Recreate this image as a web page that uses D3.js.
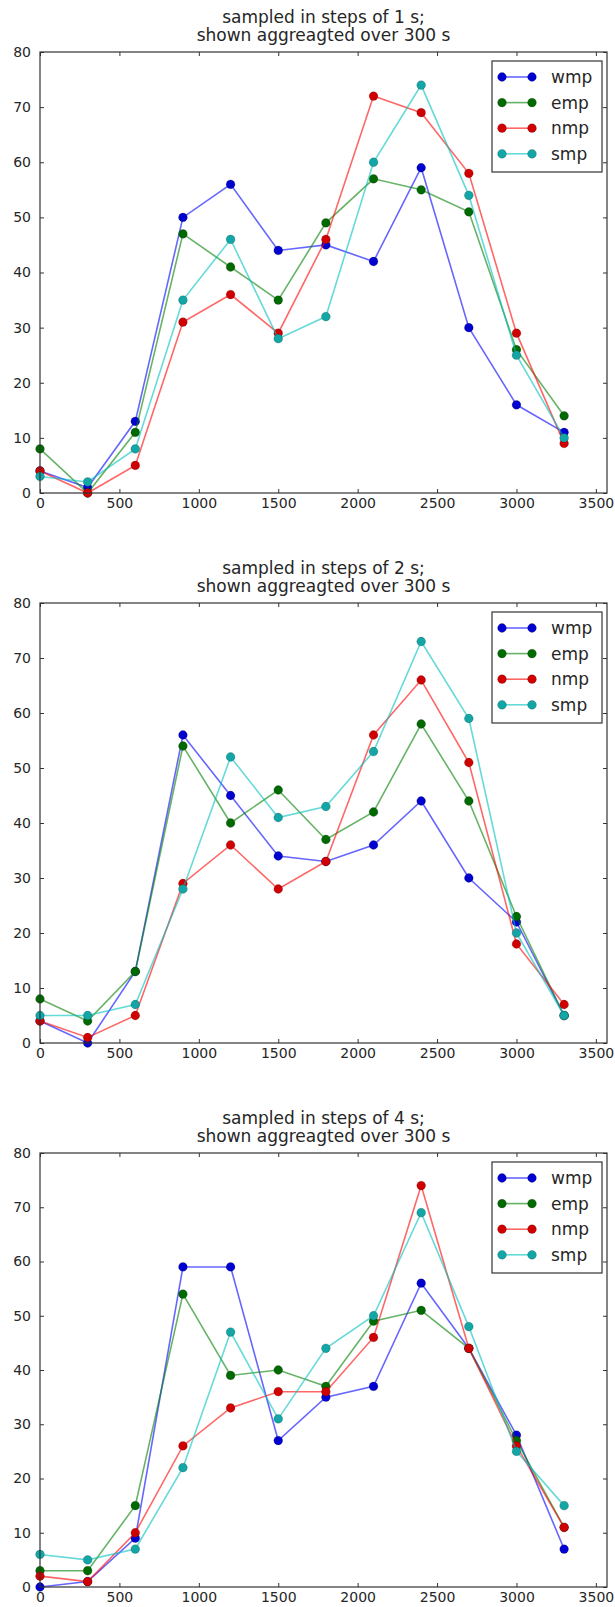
<!DOCTYPE html>
<html>
<head>
<meta charset="utf-8">
<script src="https://cdn.jsdelivr.net/npm/d3@7"></script>
<style>
body { margin: 0; background: #fff; }
text { font-family: "DejaVu Sans", sans-serif; fill: #262626; }
</style>
</head>
<body>
<div id="chart"></div>
<script>
// x positions (s) shared by every series
var times = [0, 300, 600, 900, 1200, 1500, 1800, 2100, 2400, 2700, 3000, 3300]
var seriesNames = ["wmp", "emp", "nmp", "smp"]
var seriesColors = ["#0000ff", "#008000", "#ff0000", "#00bfbf"]
var markerColors = ["#0000d0", "#006a00", "#d00000", "#12a6a6"]
var xTicks = [0, 500, 1000, 1500, 2000, 2500, 3000, 3500]
var yTicks = [0, 10, 20, 30, 40, 50, 60, 70, 80]
var panelTitles = [
  ["sampled in steps of 1 s;", "shown aggreagted over 300 s"],
  ["sampled in steps of 2 s;", "shown aggreagted over 300 s"],
  ["sampled in steps of 4 s;", "shown aggreagted over 300 s"]
]

// steps of 1 s
var wmp1 = [4, 1, 13, 50, 56, 44, 45, 42, 59, 30, 16, 11]
var emp1 = [8, 0, 11, 47, 41, 35, 49, 57, 55, 51, 26, 14]
var nmp1 = [4, 0, 5, 31, 36, 29, 46, 72, 69, 58, 29, 9]
var smp1 = [3, 2, 8, 35, 46, 28, 32, 60, 74, 54, 25, 10]

// steps of 2 s
var wmp2 = [4, 0, 13, 56, 45, 34, 33, 36, 44, 30, 22, 5]
var emp2 = [8, 4, 13, 54, 40, 46, 37, 42, 58, 44, 23, 5]
var nmp2 = [4, 1, 5, 29, 36, 28, 33, 56, 66, 51, 18, 7]
var smp2 = [5, 5, 7, 28, 52, 41, 43, 53, 73, 59, 20, 5]

// steps of 4 s
var wmp4 = [0, 1, 9, 59, 59, 27, 35, 37, 56, 44, 28, 7]
var emp4 = [3, 3, 15, 54, 39, 40, 37, 49, 51, 44, 27, 11]
var nmp4 = [2, 1, 10, 26, 33, 36, 36, 46, 74, 44, 26, 11]
var smp4 = [6, 5, 7, 22, 47, 31, 44, 50, 69, 48, 25, 15]

var panelData = [
  [wmp1, emp1, nmp1, smp1],
  [wmp2, emp2, nmp2, smp2],
  [wmp4, emp4, nmp4, smp4]
]

var w = 615
var h = 1607
var left = 40, right = 607
var tops = [52, 603, 1153]
var bottoms = [493, 1043, 1587]

var svg = d3.select("#chart").append("svg")
  .attr("width", w)
  .attr("height", h)

var line = d3.line()

panelData.forEach(function(series, p) {
  var top = tops[p], bottom = bottoms[p]
  var x = d3.scaleLinear().domain([0, 3570]).range([left, right])
  var y = d3.scaleLinear().domain([0, 80]).range([bottom, top])

  var g = svg.append("g").attr("class", "panel")

  // title
  var title = g.append("text")
    .attr("text-anchor", "middle")
    .style("font-size", "17px")
  title.append("tspan").attr("x", (left + right) / 2).attr("y", top - 29).text(panelTitles[p][0])
  title.append("tspan").attr("x", (left + right) / 2).attr("y", top - 11).text(panelTitles[p][1])

  // axes, ticks inside like matplotlib classic
  var xb = g.append("g").attr("transform", "translate(0," + bottom + ")")
    .call(d3.axisBottom(x).tickValues(xTicks).tickSize(-4).tickPadding(5).tickFormat(d3.format("d")))
  var xt = g.append("g").attr("transform", "translate(0," + top + ")")
    .call(d3.axisTop(x).tickValues(xTicks).tickSize(-4).tickFormat(""))
  var yl = g.append("g").attr("transform", "translate(" + left + ",0)")
    .call(d3.axisLeft(y).tickValues(yTicks).tickSize(-4).tickPadding(9).tickFormat(d3.format("d")))
  var yr = g.append("g").attr("transform", "translate(" + right + ",0)")
    .call(d3.axisRight(y).tickValues(yTicks).tickSize(-4).tickFormat(""))

  ;[xb, xt, yl, yr].forEach(function(a) {
    a.select(".domain").remove()
    a.selectAll("line").attr("stroke", "#333")
    a.selectAll("text").style("font-size", "14px").style("font-family", "DejaVu Sans").attr("fill", "#333")
  })

  // lines
  series.forEach(function(vals, i) {
    var pts = times.map(function(t, j) { return [x(t), y(vals[j])] })
    g.append("path")
      .attr("d", line(pts))
      .attr("fill", "none")
      .attr("stroke", seriesColors[i])
      .attr("stroke-width", 1.6)
      .attr("stroke-opacity", 0.6)
    g.selectAll(null).data(pts).enter().append("circle")
      .attr("cx", function(d) { return d[0] })
      .attr("cy", function(d) { return d[1] })
      .attr("r", 4.4)
      .attr("fill", markerColors[i])
      .attr("stroke", "#000")
      .attr("stroke-opacity", 0.35)
      .attr("stroke-width", 0.5)
  })

  // frame
  g.append("rect")
    .attr("x", left).attr("y", top)
    .attr("width", right - left).attr("height", bottom - top)
    .attr("fill", "none")
    .attr("stroke", "#333")
    .attr("stroke-width", 1.2)

  // legend
  var lx = 492, ly = top + 9
  var legend = g.append("g")
  legend.append("rect")
    .attr("x", lx).attr("y", ly)
    .attr("width", 110).attr("height", 111)
    .attr("fill", "#fff")
    .attr("stroke", "#333")
    .attr("stroke-width", 1.2)
  seriesNames.forEach(function(name, i) {
    var cy = ly + 16 + i * 25.6
    legend.append("line")
      .attr("x1", lx + 10).attr("x2", lx + 40)
      .attr("y1", cy).attr("y2", cy)
      .attr("stroke", seriesColors[i])
      .attr("stroke-width", 1.6)
      .attr("stroke-opacity", 0.6)
    ;[lx + 10, lx + 40].forEach(function(cx) {
      legend.append("circle")
        .attr("cx", cx).attr("cy", cy).attr("r", 4.4)
        .attr("fill", markerColors[i])
        .attr("stroke", "#000")
        .attr("stroke-opacity", 0.35)
        .attr("stroke-width", 0.5)
    })
    legend.append("text")
      .attr("x", lx + 59).attr("y", cy + 6)
      .style("font-size", "17px")
      .text(name)
  })
})
</script>
</body>
</html>
